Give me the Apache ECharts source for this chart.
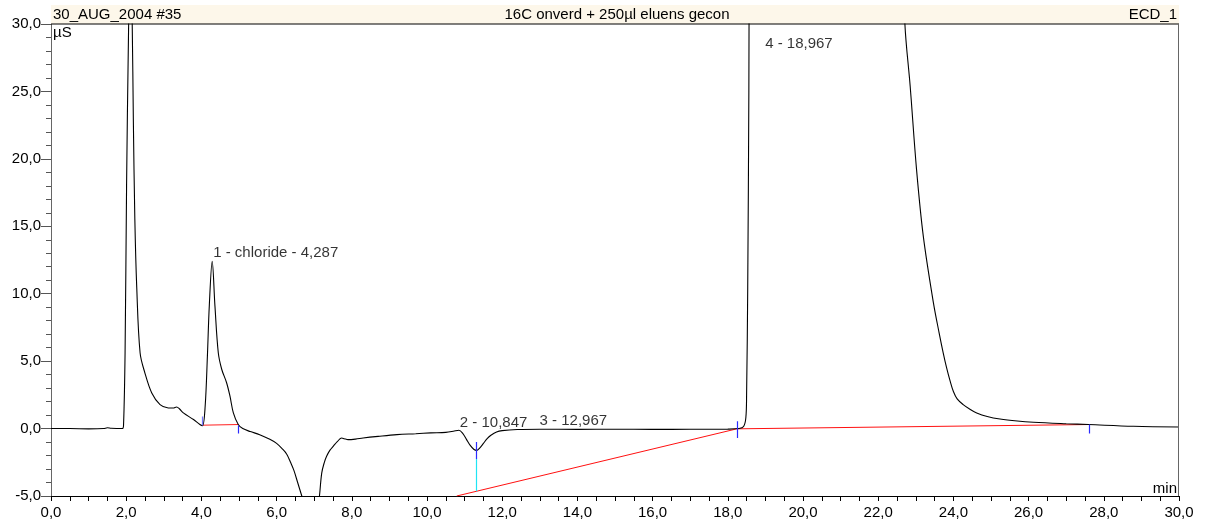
<!DOCTYPE html>
<html>
<head>
<meta charset="utf-8">
<script src="https://cdn.jsdelivr.net/npm/echarts@6/dist/echarts.min.js"></script>
<style>
  html, body { margin: 0; padding: 0; background: #fff; }
  #chart { width: 1205px; height: 527px; }
</style>
</head>
<body>
<div id="chart"></div>
<script>
// Conductivity trace (µS) against retention time (min), ECD_1 channel
const times = [
  0.0, 0.5, 1.0, 1.4, 1.5, 1.6, 1.9, 1.93, 1.97, 2.01, 2.06, 2.11, 2.16, 2.19, 2.23, 2.28,
  2.37, 2.5, 2.68, 2.9, 3.12, 3.25, 3.34, 3.42, 3.52, 3.79, 3.96, 4.03,
  4.1, 4.16, 4.21, 4.287, 4.36, 4.45, 4.54, 4.67, 4.76, 4.85, 4.98,
  5.1, 5.3, 5.55, 5.82, 6.0, 6.15, 6.27, 6.37, 6.46, 6.56, 6.67, 6.8, 6.9, 7.0, 7.1, 7.14,
  7.2, 7.27, 7.33, 7.42, 7.51, 7.62, 7.73, 7.8, 7.9, 8.1, 8.3, 8.7, 9.2, 9.7, 10.1, 10.5,
  10.7, 10.847, 10.95, 11.05, 11.15, 11.25, 11.32, 11.4, 11.5, 11.6, 11.7, 11.85, 12.0, 12.4,
  13.0, 14.0, 15.0, 16.0, 17.0, 18.0, 18.3, 18.42, 18.48, 18.5, 18.53, 18.56, 18.58, 18.7,
  19.5, 20.5, 21.5, 22.3, 22.6, 22.71, 22.85, 23.02, 23.2, 23.47, 23.62, 23.73, 23.82, 23.91,
  24.0, 24.1, 24.26, 24.45, 24.62, 24.9, 25.24, 25.7, 26.13, 27.0, 27.59, 28.79, 30.0
];
const signal = [
  0.0, 0.0, -0.02, 0.0, 0.06, 0.02, 0.0, 0.3, 5.6, 18, 29, 36, 30, 22.9, 15.5, 10.5,
  5.6, 4.1, 2.64, 1.78, 1.53, 1.52, 1.6, 1.45, 1.16, 0.67, 0.3, 0.22,
  1.65, 5.4, 9.1, 12.4, 9.1, 5.6, 4.4, 3.4, 2.4, 1.16, 0.3,
  0.0, -0.22, -0.45, -0.8, -1.1, -1.5, -1.9, -2.5, -3.1, -4.0, -5.0, -6.2, -6.8, -6.6, -5.8, -5.0,
  -3.3, -2.5, -2.05, -1.6, -1.3, -0.95, -0.7, -0.75, -0.82, -0.78, -0.7, -0.58, -0.45, -0.38, -0.32, -0.28,
  -0.2, -0.12, -0.35, -0.8, -1.25, -1.55, -1.62, -1.45, -1.1, -0.75, -0.5, -0.25, -0.15, -0.07,
  -0.05, -0.06, -0.05, -0.06, -0.05, -0.04, 0.0, 0.15, 0.8, 2.5, 10.5, 25, 40, 70,
  90, 95, 85, 60, 40, 30, 25.4, 19.2, 14.25, 9.3, 7.1, 5.6, 4.5, 3.55,
  2.75, 2.2, 1.78, 1.42, 1.16, 0.9, 0.71, 0.56, 0.47, 0.36, 0.3, 0.17, 0.12
];

// Integration baselines drawn under the peaks
const baselineChloride = [[4.02, 0.25], [4.98, 0.3]];
const baselineLate = [[10.79, -5.0], [18.24, -0.02], [27.6, 0.3]];

// Peak delimiters: [time, low, high]
const delimiters = [[4.02, 0.22, 0.9], [4.99, -0.37, 0.22], [11.32, -2.25, -1.0], [18.24, -0.69, 0.54], [27.6, -0.37, 0.3]];
const dropLine = [11.32, -4.65, -2.25];

// Peak annotations
const peakNames = ['1 - chloride - 4,287', '2 - 10,847', '3 - 12,967', '4 - 18,967'];
const peakTimes = [4.287, 10.847, 12.967, 18.967];

// Vertical anchor of each annotation (µS)
const labelAnchors = [13.0, 0.45, 0.6, 28.5];

const FONT = '"Liberation Sans", Arial, sans-serif';
const fmt = v => v.toFixed(1).replace('.', ',');

const chart = echarts.init(document.getElementById('chart'), null, { renderer: 'canvas' });

const traceData = times.map((t, i) => [t, signal[i]]);

chart.setOption({
  animation: false,
  backgroundColor: '#ffffff',
  grid: { left: 51, right: 26, top: 24, bottom: 31, show: false },
  xAxis: {
    type: 'value', min: 0, max: 30, interval: 2,
    axisLine: { show: true, onZero: false, lineStyle: { color: '#000', width: 1 } },
    axisTick: { show: true, length: 5, lineStyle: { color: '#000' } },
    minorTick: { show: true, splitNumber: 4, length: 5, lineStyle: { color: '#000' } },
    splitLine: { show: false },
    axisLabel: { formatter: fmt, color: '#000', fontFamily: FONT, fontSize: 15, margin: 9, showMinLabel: true, showMaxLabel: true }
  },
  yAxis: {
    type: 'value', min: -5, max: 30, interval: 5,
    axisLine: { show: true, onZero: false, lineStyle: { color: '#666', width: 1 } },
    axisTick: { show: true, length: 10, lineStyle: { color: '#555' } },
    minorTick: { show: true, splitNumber: 5, length: 5, lineStyle: { color: '#555' } },
    splitLine: { show: false },
    axisLabel: { formatter: fmt, color: '#000', fontFamily: FONT, fontSize: 15, margin: 10, showMinLabel: true, showMaxLabel: true }
  },
  series: [
    {
      name: 'baseline-1', type: 'line', data: baselineChloride, symbol: 'none',
      lineStyle: { color: '#ff2020', width: 1 }, z: 2, silent: true
    },
    {
      name: 'baseline-2', type: 'line', data: baselineLate, symbol: 'none',
      lineStyle: { color: '#ff1010', width: 1 }, z: 2, silent: true
    },
    {
      name: 'ECD_1', type: 'line', data: traceData, symbol: 'none',
      smooth: 0.35, clip: true,
      lineStyle: { color: '#000', width: 1.1 }, z: 3
    },
    {
      name: 'delimiters', type: 'lines', coordinateSystem: 'cartesian2d', silent: true, z: 4,
      lineStyle: { width: 1.2, opacity: 1 },
      data: delimiters.map((d, i) => ({
        coords: [[d[0], d[1]], [d[0], d[2]]],
        lineStyle: { color: i === 0 ? '#7777ff' : '#2a2aff' }
      })).concat([{
        coords: [[dropLine[0], dropLine[1]], [dropLine[0], dropLine[2]]],
        lineStyle: { color: '#20e4f4' }
      }])
    },
    {
      name: 'peaks', type: 'scatter', symbolSize: 0, silent: true, z: 5,
      data: peakTimes.map((t, i) => ({ value: [t, labelAnchors[i]], name: peakNames[i] })),
      label: {
        show: true, position: 'right', distance: 1, formatter: p => p.name,
        color: '#000', fontFamily: FONT, fontSize: 15
      }
    }
  ],
  graphic: [
    { type: 'rect', shape: { x: 51, y: 5, width: 1128, height: 19 }, style: { fill: '#fdf7ea' }, z: 1 },
    { type: 'line', shape: { x1: 51, y1: 24, x2: 1179, y2: 24 }, style: { stroke: '#000', lineWidth: 1 }, z: 10 },
    { type: 'line', shape: { x1: 1178.5, y1: 24, x2: 1178.5, y2: 496 }, style: { stroke: '#666', lineWidth: 1 }, z: 10 },
    { type: 'text', x: 53, y: 15, style: { text: '30_AUG_2004 #35', font: '15px ' + FONT, fill: '#000', verticalAlign: 'middle' }, z: 11 },
    { type: 'text', x: 617, y: 15, style: { text: '16C onverd + 250µl eluens gecon', font: '15px ' + FONT, fill: '#000', align: 'center', verticalAlign: 'middle' }, z: 11 },
    { type: 'text', x: 1177, y: 15, style: { text: 'ECD_1', font: '15px ' + FONT, fill: '#000', align: 'right', verticalAlign: 'middle' }, z: 11 },
    { type: 'text', x: 53, y: 33, style: { text: 'µS', font: '15px ' + FONT, fill: '#000', verticalAlign: 'middle' }, z: 11 },
    { type: 'text', x: 1177, y: 489, style: { text: 'min', font: '15px ' + FONT, fill: '#000', align: 'right', verticalAlign: 'middle' }, z: 11 }
  ]
});
</script>
</body>
</html>
